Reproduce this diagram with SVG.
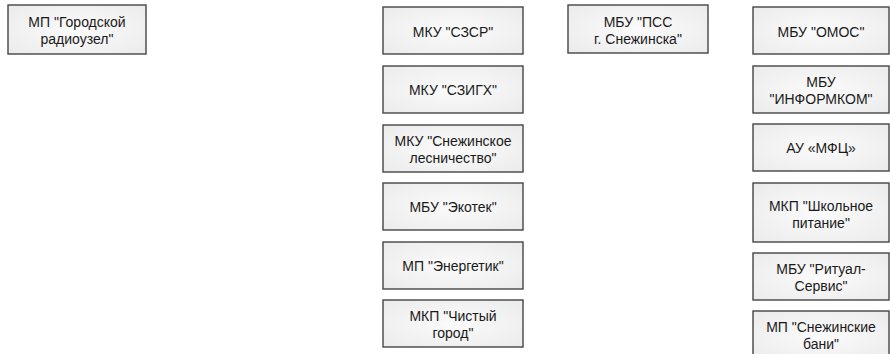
<svg xmlns="http://www.w3.org/2000/svg" width="890" height="354" viewBox="0 0 890 354">
<defs>
<radialGradient id="g" cx="50%" cy="50%" r="70%">
<stop offset="0" stop-color="#fbfbfb"/>
<stop offset="1" stop-color="#ebebeb"/>
</radialGradient>
<style>
.b{fill:url(#g);stroke:#454545;stroke-width:1.4}
text{font-family:"Liberation Sans",Arial,sans-serif;font-size:14px;fill:#1a1a1a;text-anchor:middle}
</style>
</defs>
<rect width="890" height="354" fill="#ffffff"/>
<g id="n1"><rect class="b" x="8" y="5" width="138" height="49"/><text x="77" y="27">МП "Городской</text><text x="77" y="44">радиоузел"</text></g>
<g id="n2"><rect class="b" x="383" y="7" width="140" height="47"/><text x="453" y="37">МКУ "СЗСР"</text></g>
<g id="n3"><rect class="b" x="383" y="66" width="140" height="47"/><text x="453" y="95">МКУ "СЗИГХ"</text></g>
<g id="n4"><rect class="b" x="383" y="125" width="140" height="47"/><text x="453" y="146">МКУ "Снежинское</text><text x="453" y="163">лесничество"</text></g>
<g id="n5"><rect class="b" x="383" y="183" width="140" height="47"/><text x="453" y="212">МБУ "Экотек"</text></g>
<g id="n6"><rect class="b" x="383" y="242" width="140" height="47"/><text x="453" y="271">МП "Энергетик"</text></g>
<g id="n7"><rect class="b" x="383" y="300" width="140" height="47"/><text x="453" y="321">МКП "Чистый</text><text x="453" y="338">город"</text></g>
<g id="n8"><rect class="b" x="568" y="5" width="140" height="48"/><text x="638" y="27">МБУ "ПСС</text><text x="638" y="44">г. Снежинска"</text></g>
<g id="n9"><rect class="b" x="753" y="7" width="136" height="47"/><text x="821" y="37">МБУ "ОМОС"</text></g>
<g id="n10"><rect class="b" x="753" y="66" width="136" height="47"/><text x="821" y="87">МБУ</text><text x="821" y="104">"ИНФОРМКОМ"</text></g>
<g id="n11"><rect class="b" x="753" y="124" width="136" height="47"/><text x="821" y="153">АУ «МФЦ»</text></g>
<g id="n12"><rect class="b" x="753" y="183" width="136" height="59"/><text x="821" y="211">МКП "Школьное</text><text x="821" y="228">питание"</text></g>
<g id="n13"><rect class="b" x="753" y="253" width="136" height="47"/><text x="821" y="274">МБУ "Ритуал-</text><text x="821" y="291">Сервис"</text></g>
<g id="n14"><rect class="b" x="753" y="311" width="136" height="50"/><text x="821" y="332">МП "Снежинские</text><text x="821" y="349">бани"</text></g>
<g id="connectors"></g>
</svg>
